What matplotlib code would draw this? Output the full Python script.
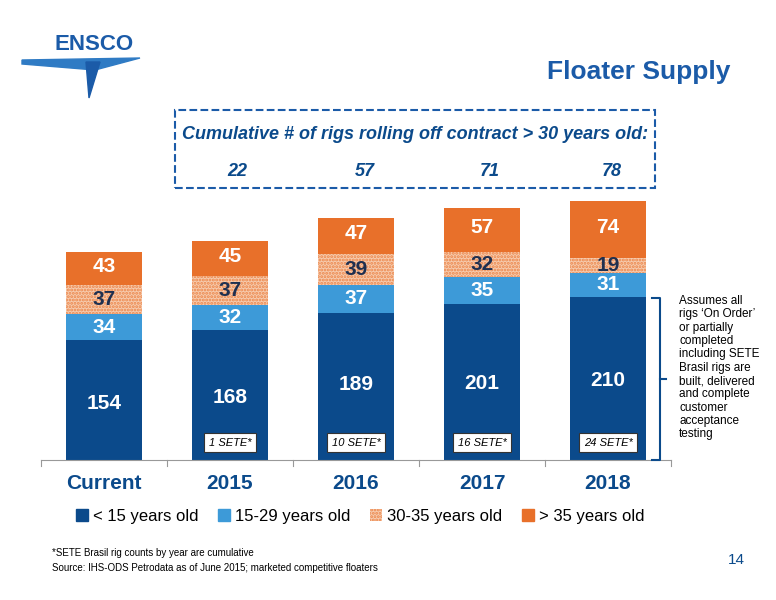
import numpy as np
import matplotlib.pyplot as plt
from matplotlib.patches import Rectangle, Polygon, Patch

categories = ["Current", "2015", "2016", "2017", "2018"]
under15 = [154, 168, 189, 201, 210]
y15_29 = [34, 32, 37, 35, 31]
y30_35 = [37, 37, 39, 32, 19]
over35 = [43, 45, 47, 57, 74]
cumulative = ["22", "57", "71", "78"]
sete = ["", "1 SETE*", "10 SETE*", "16 SETE*", "24 SETE*"]

dark = "#0B4A8B"
light = "#3D9AD8"
orange = "#E8702A"
navy = "#1F3050"

plt.rcParams["font.family"] = ["Liberation Sans", "DejaVu Sans"]
plt.rcParams["hatch.linewidth"] = 1.4
fig = plt.figure(figsize=(7.76, 6), dpi=100)
W, H = 776, 600

def fx(px):
    return px / W

def fy(py):
    return 1 - py / H

ax = fig.add_axes([fx(41), fy(460), fx(630), 264 / H])
x = np.arange(len(categories))
bw = 0.61
ax.bar(x, under15, bw, color=dark)
ax.bar(x, y15_29, bw, bottom=under15, color=light)
b2 = np.array(under15) + np.array(y15_29)
ax.bar(x, y30_35, bw, bottom=b2, color="#F6CBAE", edgecolor="#EC8549", hatch=".....", linewidth=0)
b3 = b2 + np.array(y30_35)
ax.bar(x, over35, bw, bottom=b3, color=orange)
ax.set_xlim(-0.5, 4.5)
ax.set_ylim(0, 340)

low_pos = [73, 81, 97, 99, 103]
for i in range(len(x)):
    ax.text(x[i], low_pos[i], str(under15[i]), ha="center", va="center", color="white",
            fontsize=15, fontweight="bold")
    ax.text(x[i], under15[i] + y15_29[i] / 2, str(y15_29[i]),
            ha="center", va="center", color="white", fontsize=15, fontweight="bold")
    ax.text(x[i], b2[i] + y30_35[i] / 2, str(y30_35[i]),
            ha="center", va="center", color=navy, fontsize=15, fontweight="bold")
    ax.text(x[i], b3[i] + over35[i] / 2 + 3, str(over35[i]),
            ha="center", va="center", color="white", fontsize=15, fontweight="bold")
    if sete[i]:
        ax.text(x[i], 22, sete[i], ha="center", va="center", fontsize=8, style="italic",
                bbox=dict(boxstyle="square,pad=0.4", fc="white", ec="#333333", lw=0.8))

for s in ["top", "right", "left"]:
    ax.spines[s].set_visible(False)
ax.spines["bottom"].set_color("#999999")
ax.set_yticks([])
ax.set_xticks(x)
ax.set_xticklabels(categories, fontsize=15, fontweight="bold", color=dark)
ax.tick_params(axis="x", length=0, pad=10)
for xb in np.arange(-0.5, 4.6, 1):
    ax.plot([xb, xb], [0, -8], color="#999999", lw=0.8, clip_on=False)

handles = [Patch(color=dark), Patch(color=light),
           Patch(facecolor="#F6CBAE", edgecolor="#EC8549", hatch=".....", lw=0), Patch(color=orange)]
fig.legend(handles, ["< 15 years old", "15-29 years old", "30-35 years old", "> 35 years old"],
           loc="center", bbox_to_anchor=(fx(360), fy(516)), ncol=4, frameon=False,
           fontsize=12, handlelength=0.7, handleheight=0.7, handletextpad=0.3, columnspacing=1.2)

# header
fig.text(fx(55), fy(45), "ENSCO", fontsize=16, fontweight="bold", color="#1B5BA8", va="center")
fig.patches.append(Polygon([[fx(22), fy(60)], [fx(140), fy(58)], [fx(95), fy(70)], [fx(22), fy(64)]],
                           closed=True, transform=fig.transFigure, color="#2F7BC4", figure=fig))
fig.patches.append(Polygon([[fx(86), fy(62)], [fx(100), fy(62)], [fx(89), fy(98)]],
                           closed=True, transform=fig.transFigure, color="#1B5BA8", figure=fig))
fig.text(fx(730), fy(72), "Floater Supply", fontsize=19, fontweight="bold", color="#1B5BA8",
         ha="right", va="center")

fig.patches.append(Rectangle((fx(175), fy(188)), fx(480), 78 / H, transform=fig.transFigure,
                             fill=False, ec="#1B5BA8", ls="--", lw=1.5, figure=fig))
fig.text(fx(415), fy(134), "Cumulative # of rigs rolling off contract > 30 years old:", fontsize=13,
         fontweight="bold", style="italic", color=dark, ha="center", va="center")
for px, t in zip([237, 365, 490, 612], cumulative):
    fig.text(fx(px), fy(172), t, fontsize=13, fontweight="bold", style="italic", color=dark,
             ha="center", va="center")

fig.lines.append(plt.Line2D([fx(652), fx(660), fx(660), fx(652)], [fy(298), fy(298), fy(460), fy(460)],
                            transform=fig.transFigure, color=dark, lw=1.5))
fig.lines.append(plt.Line2D([fx(660), fx(666)], [fy(379), fy(379)], transform=fig.transFigure, color=dark, lw=1.5))
fig.text(fx(679), fy(295), "Assumes all\nrigs \u2018On Order\u2019\nor partially\ncompleted\nincluding SETE\n"
         "Brasil rigs are\nbuilt, delivered\nand complete\ncustomer\nacceptance\ntesting",
         fontsize=8.5, va="top", ha="left", linespacing=1.15)

fig.text(fx(52), fy(553), "*SETE Brasil rig counts by year are cumulative", fontsize=7, va="center")
fig.text(fx(52), fy(568), "Source: IHS-ODS Petrodata as of June 2015; marketed competitive floaters",
         fontsize=7, va="center")
fig.text(fx(745), fy(560), "14", fontsize=11, color=dark, ha="right", va="center")

fig.savefig("out.png", dpi=100)
